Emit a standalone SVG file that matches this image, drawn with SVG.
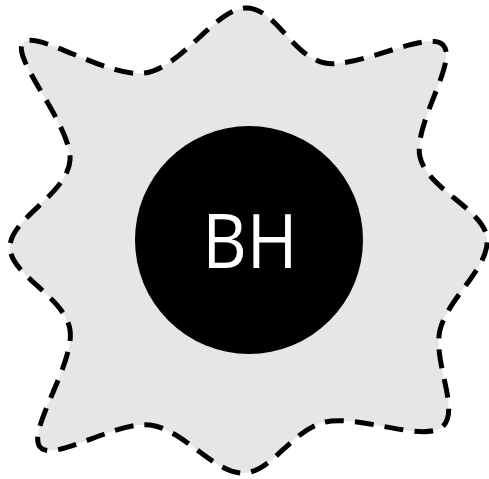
<svg xmlns="http://www.w3.org/2000/svg" width="489" height="479" viewBox="0 0 489 479">
<style>
.halo{fill:#e6e6e6;stroke:#000;stroke-width:5;stroke-dasharray:19 11;stroke-linejoin:round}
.bh{fill:#000}
.lbl{fill:#fff;font-family:"Open Sans","DejaVu Sans",sans-serif;font-size:75px;text-anchor:middle}
</style>
<g id="halo">
<path class="halo" d="M245,8 C275,6.33 292,56.83 325,63 C358,69.17 427.17,29.33 443,45 C458.83,60.67 412.67,124.83 420,157 C427.33,189.17 483.67,209.17 487,238 C490.33,266.83 447.5,298.5 440,330 C432.5,361.5 461.17,411.67 442,427 C422.83,442.33 358.17,414.33 325,422 C291.83,429.67 272.17,472.5 243,473 C213.83,473.5 183.83,429.33 150,425 C116.17,420.67 53.33,462.83 40,447 C26.67,431.17 75,363.33 70,330 C65,296.67 10,275.33 10,247 C10,218.67 67.83,194 70,160 C72.17,126 10.5,57.5 23,43 C35.5,28.5 108,78.83 145,73 C182,67.17 215,9.67 245,8 Z"/>
</g>
<g id="blackhole">
<circle class="bh" cx="249" cy="240" r="114"/>
<text class="lbl" transform="translate(250,268) scale(0.92,1)" x="0" y="0">BH</text>
</g>
</svg>
